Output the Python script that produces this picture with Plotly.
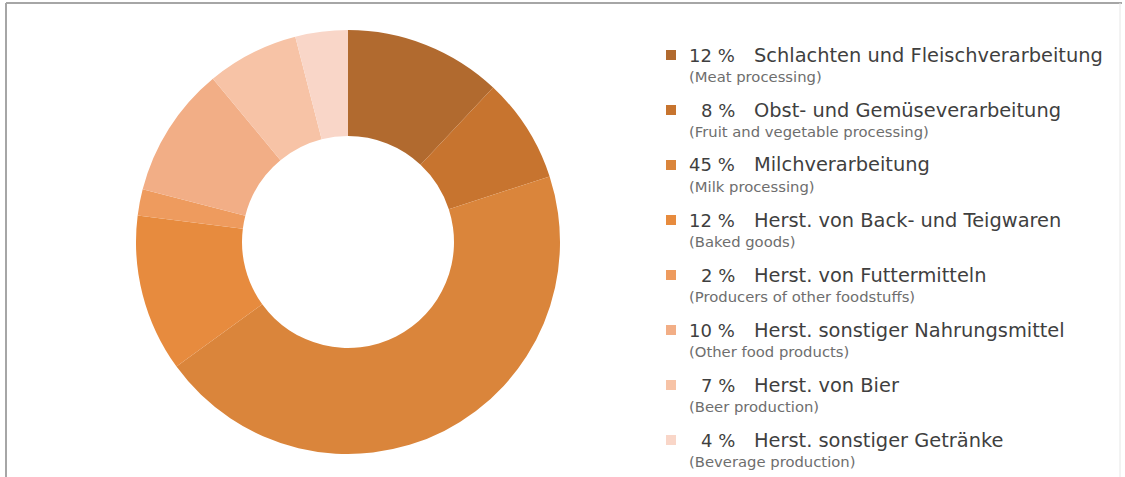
import plotly.graph_objects as go

shares = [12, 8, 45, 12, 2, 10, 7, 4]
labels_de = ['Schlachten und Fleischverarbeitung',
             'Obst- und Gemüseverarbeitung',
             'Milchverarbeitung',
             'Herst. von Back- und Teigwaren',
             'Herst. von Futtermitteln',
             'Herst. sonstiger Nahrungsmittel',
             'Herst. von Bier',
             'Herst. sonstiger Getränke']
labels_en = ['(Meat processing)',
             '(Fruit and vegetable processing)',
             '(Milk processing)',
             '(Baked goods)',
             '(Producers of other foodstuffs)',
             '(Other food products)',
             '(Beer production)',
             '(Beverage production)']
colors = ['#B16A2F', '#C7742F', '#DA853B', '#E78B3E',
          '#EE9B5E', '#F2AE86', '#F7C3A6', '#F9D6C8']

W, H = 1125, 477


def px(x, y):
    # pixel position (from top left) -> paper coords
    return x / W, 1 - y / H


fig = go.Figure()
fig.add_trace(go.Pie(
    values=shares, labels=labels_de, hole=0.5, sort=False,
    direction='clockwise', rotation=0, textinfo='none',
    marker=dict(colors=colors, line=dict(width=0)),
    domain=dict(x=[136 / W, 560 / W], y=[1 - 454 / H, 1 - 30 / H]),
    showlegend=False,
))

# hand-made legend: square + percent + german line + english line
y0, step = 55, 55
shapes = []
annotations = []
for i, (p, de, en) in enumerate(zip(shares, labels_de, labels_en)):
    yc = y0 + i * step
    shapes.append(dict(type='rect', xref='paper', yref='paper',
                       x0=666 / W, x1=676 / W, y0=1 - (yc + 5) / H, y1=1 - (yc - 5) / H,
                       fillcolor=colors[i], line=dict(width=0)))
    x, y = px(737, yc)
    annotations.append(dict(xref='paper', yref='paper', x=x, y=y,
                            xanchor='right', yanchor='middle', showarrow=False,
                            text='%d %%' % p,
                            font=dict(family='DejaVu Sans', size=18, color='#3F3F3F')))
    x, y = px(752, yc)
    annotations.append(dict(xref='paper', yref='paper', x=x, y=y,
                            xanchor='left', yanchor='middle', showarrow=False,
                            text=de,
                            font=dict(family='DejaVu Sans', size=19.4, color='#3F3F3F')))
    x, y = px(687, yc + 21)
    annotations.append(dict(xref='paper', yref='paper', x=x, y=y,
                            xanchor='left', yanchor='middle', showarrow=False,
                            text=en,
                            font=dict(family='DejaVu Sans', size=14.8, color='#6E6E6E')))

# frame around the chart
shapes.append(dict(type='line', xref='paper', yref='paper', x0=6 / W, x1=1122 / W,
                   y0=1 - 3 / H, y1=1 - 3 / H, line=dict(color='#A6A6A6', width=2)))
shapes.append(dict(type='line', xref='paper', yref='paper', x0=6 / W, x1=6 / W,
                   y0=0, y1=1 - 3 / H, line=dict(color='#A6A6A6', width=2)))
shapes.append(dict(type='line', xref='paper', yref='paper', x0=1120 / W, x1=1120 / W,
                   y0=0, y1=1 - 3 / H, line=dict(color='#E6E6E6', width=1)))

fig.update_layout(
    width=W, height=H,
    margin=dict(l=0, r=0, t=0, b=0),
    paper_bgcolor='white', plot_bgcolor='white',
    shapes=shapes, annotations=annotations,
)

# drop the default body margin so the figure sits at the page origin
fig.write_html("out.html", config={'displayModeBar': False},
               post_script="document.body.style.margin = '0';")
